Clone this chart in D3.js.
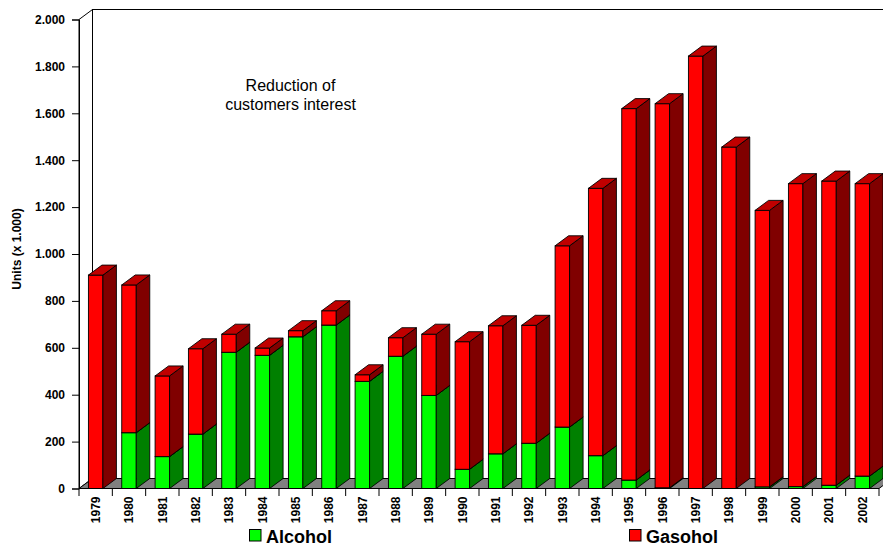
<!DOCTYPE html>
<html>
<head>
<meta charset="utf-8">
<script src="https://cdn.jsdelivr.net/npm/d3@7"></script>
<style>
  body { margin: 0; background: #fff; }
  text { font-family: Arial, "Liberation Sans", sans-serif; }
</style>
</head>
<body>
<svg id="chart" width="883" height="547"></svg>
<script>
// data (units x 1.000)
const years = ["1979","1980","1981","1982","1983","1984","1985","1986","1987","1988","1989","1990",
               "1991","1992","1993","1994","1995","1996","1997","1998","1999","2000","2001","2002"];
const alcohol = [0, 238, 136, 232, 581, 568, 647, 697, 457, 564, 397, 82,
                 148, 193, 262, 140, 36, 3, 0, 0, 7, 8, 14, 53];
const gasohol = [910, 630, 344, 364, 77, 31, 26, 61, 28, 79, 261, 544,
                 546, 503, 773, 1140, 1584, 1638, 1844, 1456, 1179, 1292, 1297, 1247];
const yTicks = [0, 200, 400, 600, 800, 1000, 1200, 1400, 1600, 1800, 2000];

const svg = d3.select("#chart");

// plot frame
const plotLeft = 79, plotRight = 879, plotTop = 19.5, plotBottom = 488.5;
const dx = 13.5, dy = 10; // depth of the 3d look

const x = d3.scaleBand().domain(years).range([plotLeft, plotRight]).padding(0);
const y = d3.scaleLinear().domain([0, 2000]).range([plotBottom, plotTop]);

const fmt = d3.formatLocale({decimal: ",", thousands: ".", grouping: [3], currency: ["", ""]}).format(",");

// walls
svg.append("polygon")
    .attr("points", [[plotLeft, plotTop], [plotLeft + dx, plotTop - dy], [plotLeft + dx, plotBottom - dy], [plotLeft, plotBottom]].join(" "))
    .attr("fill", "#fff").attr("stroke", "#000");
svg.append("rect")
    .attr("x", plotLeft + dx).attr("y", plotTop - dy)
    .attr("width", plotRight - plotLeft + 20).attr("height", plotBottom - plotTop)
    .attr("fill", "#fff").attr("stroke", "#000");

// floor
svg.append("polygon")
    .attr("points", [[plotLeft, plotBottom], [plotRight, plotBottom], [plotRight + dx, plotBottom - dy], [plotLeft + dx, plotBottom - dy]].join(" "))
    .attr("fill", "#808080").attr("stroke", "#000");

const colors = {
    alcohol: {front: "#00ff00", side: "#008000", top: "#00c000"},
    gasohol: {front: "#ff0000", side: "#800000", top: "#c00000"}
};

const barW = x.bandwidth() * 0.435;

function drawBlock(g, x0, v0, v1, c) {
    const x1 = x0 + barW;
    const yb = y(v0), yt = y(v1);
    g.append("rect")
        .attr("x", x0).attr("y", yt).attr("width", barW).attr("height", yb - yt)
        .attr("fill", c.front).attr("stroke", "#000").attr("stroke-width", 0.9);
    g.append("polygon")
        .attr("points", [[x1, yb], [x1 + dx, yb - dy], [x1 + dx, yt - dy], [x1, yt]].join(" "))
        .attr("fill", c.side).attr("stroke", "#000").attr("stroke-width", 0.9);
    g.append("polygon")
        .attr("points", [[x0, yt], [x1, yt], [x1 + dx, yt - dy], [x0 + dx, yt - dy]].join(" "))
        .attr("fill", c.top).attr("stroke", "#000").attr("stroke-width", 0.9);
}

const bars = svg.append("g");
years.forEach((yr, i) => {
    const g = bars.append("g");
    const x0 = x(yr) + x.bandwidth() / 2 - barW / 2;
    if (alcohol[i] > 0) drawBlock(g, x0, 0, alcohol[i], colors.alcohol);
    if (gasohol[i] > 0) drawBlock(g, x0, alcohol[i], alcohol[i] + gasohol[i], colors.gasohol);
});

// y axis
const yAxis = svg.append("g")
    .attr("transform", `translate(${plotLeft},0)`)
    .call(d3.axisLeft(y).tickValues(yTicks).tickFormat(fmt).tickSize(7).tickPadding(7));
yAxis.selectAll("text").attr("font-size", 12).attr("font-weight", "bold").attr("fill", "#000")
    .style("font-family", "Arial, 'Liberation Sans', sans-serif");
yAxis.select(".domain").attr("stroke", "#000");
yAxis.selectAll(".tick line").attr("stroke", "#000");

// x axis
svg.append("line")
    .attr("x1", plotLeft).attr("x2", plotRight).attr("y1", plotBottom).attr("y2", plotBottom)
    .attr("stroke", "#000");
svg.append("g").selectAll("line")
    .data(years.map(d => x(d)).concat([plotRight]))
    .join("line")
    .attr("x1", d => d).attr("x2", d => d)
    .attr("y1", plotBottom).attr("y2", plotBottom + 7.5)
    .attr("stroke", "#000");
svg.append("g").selectAll("text")
    .data(years)
    .join("text")
    .attr("transform", d => `translate(${x(d) + x.bandwidth() / 2},${plotBottom + 8}) rotate(-90)`)
    .attr("dy", "0.35em")
    .attr("text-anchor", "end")
    .attr("font-size", 12)
    .attr("font-weight", "bold")
    .text(d => d);

// axis title
svg.append("text")
    .attr("transform", "translate(21,249) rotate(-90)")
    .attr("text-anchor", "middle")
    .attr("font-size", 12)
    .attr("font-weight", "bold")
    .text("Units (x 1.000)");

// note
const note = svg.append("text")
    .attr("text-anchor", "middle")
    .attr("font-size", 16);
note.append("tspan").attr("x", 290.5).attr("y", 90.7).text("Reduction of");
note.append("tspan").attr("x", 290.5).attr("y", 110.3).text("customers interest");

// legend
const legend = [
    {name: "Alcohol", color: colors.alcohol.front, x: 249.5},
    {name: "Gasohol", color: colors.gasohol.front, x: 629.5}
];
legend.forEach(l => {
    svg.append("rect")
        .attr("x", l.x).attr("y", 529.5).attr("width", 11.5).attr("height", 11.5)
        .attr("fill", l.color).attr("stroke", "#000");
    svg.append("text")
        .attr("x", l.x + 16.5).attr("y", 542.5)
        .attr("font-size", 18)
        .attr("font-weight", "bold")
        .text(l.name);
});
</script>
</body>
</html>
